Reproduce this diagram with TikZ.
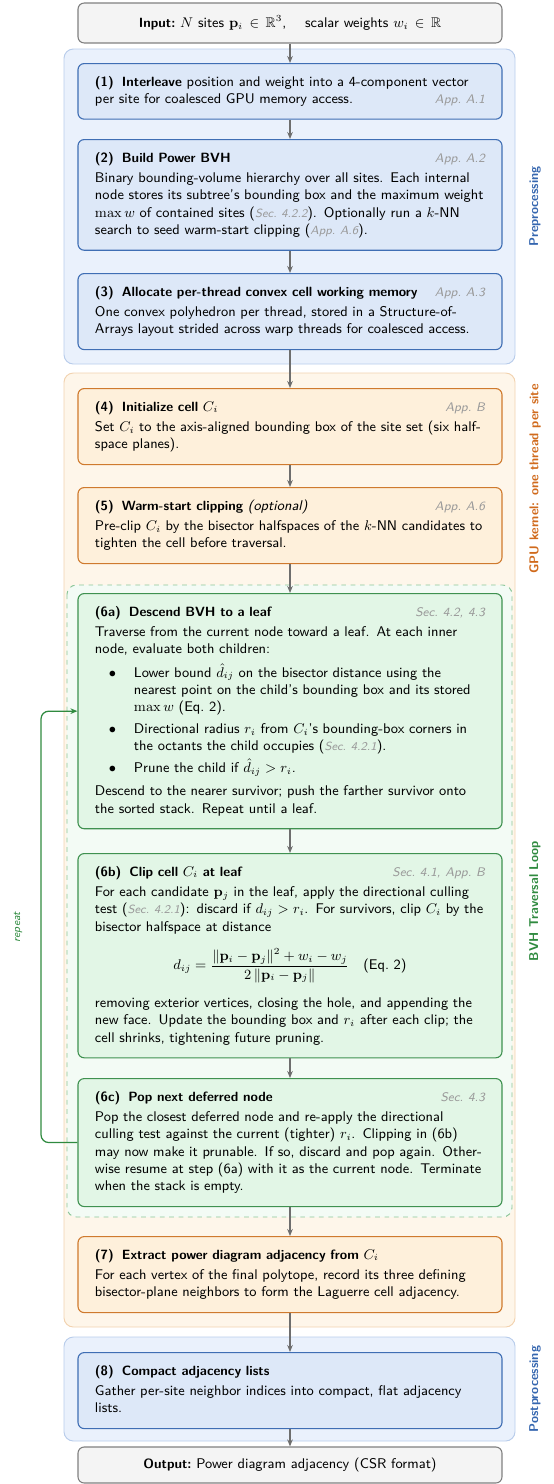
\documentclass[tikz,border=0pt]{standalone}
\usepackage{amsmath, amssymb}
\usetikzlibrary{positioning, arrows.meta, backgrounds}

\definecolor{prefill}{HTML}{EAF1FC}
\definecolor{predraw}{HTML}{B9CDEB}
\definecolor{preboxfill}{HTML}{DDE8F8}
\definecolor{preboxdraw}{HTML}{3F6EB4}
\definecolor{gpufill}{HTML}{FEF6EA}
\definecolor{gpudraw}{HTML}{F2D3B0}
\definecolor{gpuboxfill}{HTML}{FEF0DB}
\definecolor{gpuboxdraw}{HTML}{CF7A2E}
\definecolor{loopfill}{HTML}{F3FBF5}
\definecolor{loopdraw}{HTML}{8BC699}
\definecolor{loopboxfill}{HTML}{E2F6E6}
\definecolor{loopboxdraw}{HTML}{3F9150}
\definecolor{iofill}{HTML}{F4F4F4}
\definecolor{iodraw}{HTML}{808080}
\definecolor{reftext}{HTML}{9A9A9A}
\definecolor{arrowgray}{HTML}{6E6E6E}
\definecolor{prelabel}{HTML}{3566AF}
\definecolor{gpulabel}{HTML}{D06A1C}
\definecolor{looplabel}{HTML}{2F8A3F}

% headings and references to the paper
\newcommand{\hd}[1]{{\fontsize{8.6}{11.1}\selectfont\bfseries #1}}
\newcommand{\hdref}[1]{\hfill{\footnotesize\itshape\color{reftext}#1}}
\newcommand{\inref}[1]{{\fontsize{7.6}{9}\selectfont\itshape\color{reftext}#1}}

\begin{document}
\begin{tikzpicture}[
  x=0.641pt, y=-0.641pt,
  font=\sffamily\small\fontsize{9}{11.1}\selectfont,
  % Box styles
  stepbox/.style={draw, rectangle, rounded corners=4pt, line width=0.7pt, anchor=north,
    text width=250pt, inner xsep=10.9pt, inner ysep=6.73pt, align=left,
    execute at begin node=\strut, execute at end node=\strut},
  prebox/.style={fill=preboxfill, draw=preboxdraw},
  gpubox/.style={fill=gpuboxfill, draw=gpuboxdraw},
  loopbox/.style={fill=loopboxfill, draw=loopboxdraw},
  iobox/.style={draw=iodraw, fill=iofill, rectangle, rounded corners=4pt, line width=0.7pt,
    minimum width=271.8pt, minimum height=25.6pt},
  groupbox/.style={rectangle, rounded corners=6pt, line width=0.6pt},
  sidelabel/.style={rotate=90, font=\sffamily\fontsize{8.2}{10}\selectfont\bfseries},
  % Arrow styles
  line/.style={draw=arrowgray, line width=0.8pt, -{Stealth[length=4.5pt, width=3.6pt]}},
  loopline/.style={draw=looplabel, line width=0.8pt, rounded corners=5pt,
    -{Stealth[length=4.5pt, width=3.6pt]}}
]
  \useasboundingbox (0,0) rectangle (554,1484);

  % ==========================================
  % INPUT
  % ==========================================
  \node[iobox] (in) at (290,23) {\hd{Input:}\ $N$ sites $\mathbf{p}_i \,\in\, \mathbb{R}^3$, \quad scalar weights $w_i \,\in\, \mathbb{R}$};

  % ==========================================
  % PREPROCESSING
  % ==========================================
  \node[stepbox, prebox] (s1) at (290,63) {\hd{(1)\hspace{0.6em}Interleave} position and weight into a 4-component vector per site for coalesced GPU memory access.\hdref{App.~A.1}};
  \node[stepbox, prebox] (s2) at (290,139) {\hd{(2)\hspace{0.6em}Build Power BVH}\hdref{App.~A.2}\\[2pt]
    Binary bounding-volume hierarchy over all sites. Each internal node stores its subtree's bounding box and the maximum weight $\max w$ of contained sites (\inref{Sec.~4.2.2}). Optionally run a $k$-NN search to seed warm-start clipping (\inref{App.~A.6}).};
  \node[stepbox, prebox] (s3) at (290,273) {\hd{(3)\hspace{0.6em}Allocate per-thread convex cell working memory}\hdref{App.~A.3}\\[2pt]
    One convex polyhedron per thread, stored in a Structure-of-Arrays layout strided across warp threads for coalesced access.};

  \draw[line] (in) -- (s1);
  \draw[line] (s1) -- (s2);
  \draw[line] (s2) -- (s3);

  % ==========================================
  % GPU KERNEL
  % ==========================================
  \node[stepbox, gpubox] (s4) at (290,388) {\hd{(4)\hspace{0.6em}Initialize cell $C_i$}\hdref{App.~B}\\[2pt]
    Set $C_i$ to the axis-aligned bounding box of the site set (six half-space planes).};
  \node[stepbox, gpubox] (s5) at (290,487) {\hd{(5)\hspace{0.6em}Warm-start clipping} \textit{(optional)}\hdref{App.~A.6}\\[2pt]
    Pre-clip $C_i$ by the bisector halfspaces of the $k$-NN candidates to tighten the cell before traversal.};

  \draw[line] (s3) -- (s4);
  \draw[line] (s4) -- (s5);

  % BVH traversal loop
  \node[stepbox, loopbox] (s6a) at (290,593) {\hd{(6a)\hspace{0.6em}Descend BVH to a leaf}\hdref{Sec.~4.2, 4.3}\\[2pt]
    Traverse from the current node toward a leaf. At each inner node, evaluate both children:
    \begin{list}{$\bullet$}{\leftmargin=25pt \labelwidth=10pt \labelsep=11.4pt
      \topsep=3.8pt \partopsep=0pt \itemsep=2.8pt \parsep=0pt}
      \item Lower bound $\hat{d}_{ij}$ on the bisector distance using the nearest point on the child's bounding box and its stored $\max w$ (Eq.~2).
      \item Directional radius $r_i$ from $C_i$'s bounding-box corners in the octants the child occupies (\inref{Sec.~4.2.1}).
      \item Prune the child if $\hat{d}_{ij} > r_i$.
    \end{list}
    Descend to the nearer survivor; push the farther survivor onto the sorted stack. Repeat until a leaf.};
  \node[stepbox, loopbox] (s6b) at (290,853) {\hd{(6b)\hspace{0.6em}Clip cell $C_i$ at leaf}\hdref{Sec.~4.1, App.~B}\\[2pt]
    For each candidate $\mathbf{p}_j$ in the leaf, apply the directional culling test (\inref{Sec.~4.2.1}): discard if $d_{ij} > r_i$. For survivors, clip $C_i$ by the bisector halfspace at distance
    \[ d_{ij} = \frac{\lVert \mathbf{p}_i - \mathbf{p}_j \rVert^2 + w_i - w_j}{2\,\lVert \mathbf{p}_i - \mathbf{p}_j \rVert} \quad \text{(Eq.~2)} \]
    removing exterior vertices, closing the hole, and appending the new face. Update the bounding box and $r_i$ after each clip; the cell shrinks, tightening future pruning.};
  \node[stepbox, loopbox] (s6c) at (290,1078) {\hd{(6c)\hspace{0.6em}Pop next deferred node}\hdref{Sec.~4.3}\\[2pt]
    Pop the closest deferred node and re-apply the directional culling test against the current (tighter) $r_i$. Clipping in (6b) may now make it prunable. If so, discard and pop again. Otherwise resume at step (6a) with it as the current node. Terminate when the stack is empty.};

  \draw[line] (s5) -- (s6a);
  \draw[line] (s6a) -- (s6b);
  \draw[line] (s6b) -- (s6c);

  % repeat edge back to (6a)
  \coordinate (rp) at (41,0);
  \draw[loopline] (s6c.west) -- (s6c.west -| rp) -- (s6a.west -| rp) -- (s6a.west);
  \node[rotate=90, font=\sffamily\scriptsize\itshape, text=looplabel] (lrp) at (18,927) {repeat};

  \node[stepbox, gpubox] (s7) at (290,1236) {\hd{(7)\hspace{0.6em}Extract power diagram adjacency from $C_i$}\\[2pt]
    For each vertex of the final polytope, record its three defining bisector-plane neighbors to form the Laguerre cell adjacency.};

  \draw[line] (s6c) -- (s7);

  % ==========================================
  % POSTPROCESSING AND OUTPUT
  % ==========================================
  \node[stepbox, prebox] (s8) at (290,1352) {\hd{(8)\hspace{0.6em}Compact adjacency lists}\\[2pt]
    Gather per-site neighbor indices into compact, flat adjacency lists.};
  \node[iobox, minimum height=23.1pt] (out) at (290,1465) {\hd{Output:}\ Power diagram adjacency (CSR format)};

  \draw[line] (s7) -- (s8);
  \draw[line] (s8) -- (out);

  % ==========================================
  % BACKGROUND LAYER
  % ==========================================
  \begin{scope}[on background layer]
    \draw[groupbox, fill=prefill, draw=predraw] (64,49) rectangle (515,364);
    \draw[groupbox, fill=gpufill, draw=gpudraw] (64,373) rectangle (515,1327);
    \draw[groupbox, fill=loopfill, draw=loopdraw, dashed] (67,585) rectangle (512,1217);
    \draw[groupbox, fill=prefill, draw=predraw] (64,1337) rectangle (515,1441);
  \end{scope}

  % Stage labels
  \node[sidelabel, text=prelabel] (lpre) at (535,206.5) {Preprocessing};
  \node[sidelabel, text=gpulabel] (lgpu) at (535,479) {GPU kernel: one thread per site};
  \node[sidelabel, text=looplabel] (lloop) at (535,901) {BVH Traversal Loop};
  \node[sidelabel, text=prelabel] (lpost) at (535,1389) {Postprocessing};

\end{tikzpicture}
\end{document}
